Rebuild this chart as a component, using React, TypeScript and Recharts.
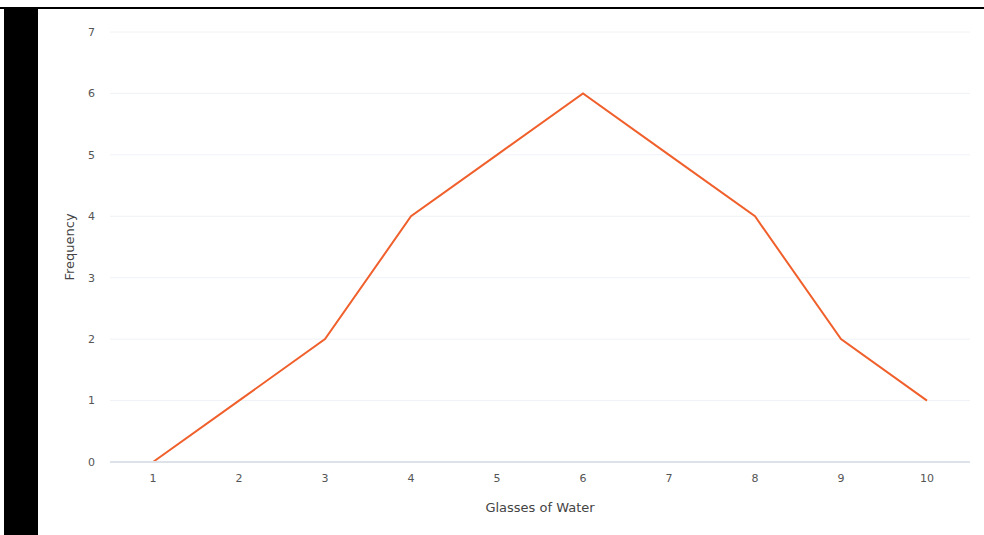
import React from "react";
import { LineChart, Line, XAxis, YAxis, CartesianGrid } from "recharts";

const glasses = ["1", "2", "3", "4", "5", "6", "7", "8", "9", "10"];
const frequency = [0, 1, 2, 4, 5, 6, 5, 4, 2, 1];
const yTicks = [0, 1, 2, 3, 4, 5, 6, 7];

const data = glasses.map((g, i) => ({ glasses: g, frequency: frequency[i] }));

const font = "'DejaVu Sans', sans-serif";

export default function App() {
  return (
    <div style={{ position: "absolute", left: 0, top: 0, width: 984, height: 535, background: "#fff", overflow: "hidden" }}>
      <div style={{ position: "absolute", left: 0, top: 7, width: 984, height: 2, background: "#000" }} />
      <div style={{ position: "absolute", left: 4, top: 8, width: 34, height: 527, background: "#000" }} />
      <div style={{ position: "absolute", left: 38, top: 9 }}>
        <LineChart width={946} height={526} data={data} margin={{ top: 23, right: 14, left: 0, bottom: 0 }}>
          <CartesianGrid vertical={false} stroke="#eef2f6" />
          <XAxis
            dataKey="glasses"
            height={73}
            padding={{ left: 43, right: 43 }}
            tickLine={false}
            axisLine={{ stroke: "#dde2e8", strokeWidth: 2 }}
            tick={{ fill: "#555", fontSize: 11, fontFamily: font }}
            tickMargin={6}
            label={{ value: "Glasses of Water", position: "insideBottom", offset: 23, fill: "#444", fontSize: 13, fontFamily: font }}
          />
          <YAxis
            width={72}
            domain={[0, 7]}
            ticks={yTicks}
            tickLine={false}
            axisLine={false}
            tick={{ fill: "#555", fontSize: 11, fontFamily: font }}
            tickMargin={9}
            label={{ value: "Frequency", angle: -90, position: "insideLeft", offset: 31, fill: "#444", fontSize: 13, fontFamily: font, style: { textAnchor: "middle" } }}
          />
          <Line
            type="linear"
            dataKey="frequency"
            stroke="#f0602c"
            strokeWidth={2}
            dot={false}
            activeDot={false}
            isAnimationActive={false}
          />
        </LineChart>
      </div>
    </div>
  );
}
